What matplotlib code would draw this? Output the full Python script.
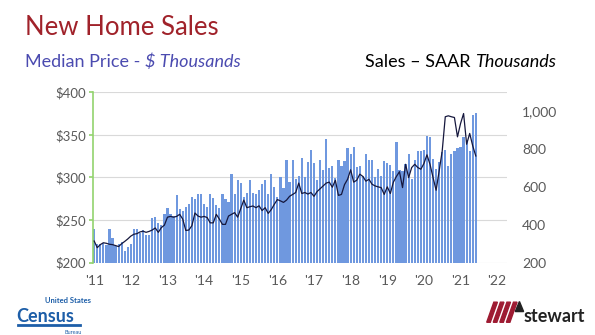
import numpy as np
import matplotlib.pyplot as plt
from matplotlib.patches import Polygon

# monthly series, Jan 2011 .. Jun 2021
price = [239, 222, 222, 223, 221, 239, 229, 220, 222, 224, 214, 218,
         222, 239, 239, 235, 238, 233, 233, 252, 254, 246, 244, 257,
         264, 257, 255, 279, 263, 261, 265, 269, 277, 275, 280, 281,
         269, 265, 280, 276, 268, 264, 280, 275, 271, 304, 280, 297,
         293, 277, 282, 297, 282, 281, 285, 292, 297, 280, 304, 289,
         277, 300, 288, 320, 295, 320, 298, 302, 323, 301, 318, 332,
         317, 297, 320, 309, 345, 311, 313, 299, 320, 313, 319, 335,
         328, 336, 312, 313, 302, 328, 320, 320, 300, 310, 302, 319,
         317, 315, 308, 342, 309, 308, 316, 328, 298, 320, 331, 331,
         332, 348, 347, 321, 310, 318, 330, 332, 313, 327, 331, 335,
         336, 347, 344, 331, 373, 375]
sales = [314, 279, 295, 305, 302, 297, 295, 290, 285, 300, 312, 325,
         340, 350, 353, 362, 366, 360, 365, 372, 383, 360, 385, 398,
         440, 444, 440, 444, 455, 430, 370, 372, 395, 462, 446, 440,
         444, 438, 410, 410, 455, 430, 402, 402, 446, 455, 464, 440,
         485, 530, 490, 495, 499, 490, 500, 475, 490, 460, 480, 508,
         533, 526, 518, 530, 550, 560, 570, 620, 565, 570, 562, 570,
         550, 575, 590, 605, 620, 625, 598, 635, 555, 560, 612, 640,
         690, 625, 635, 667, 655, 630, 640, 614, 605, 600, 596, 560,
         600, 565, 625, 655, 680, 596, 719, 649, 702, 719, 702, 693,
         723, 769, 719, 649, 582, 684, 790, 970, 975, 970, 966, 864,
         934, 987, 825, 882, 816, 763]
year_labels = ["'11", "'12", "'13", "'14", "'15", "'16",
               "'17", "'18", "'19", "'20", "'21", "'22"]
price_ticks = [200, 250, 300, 350, 400]
sales_ticks = [200, 400, 600, 800, 1000]

months = np.arange(len(price))
grey = '#595959'
font = ['Lato', 'DejaVu Sans']
plt.rcParams['font.family'] = font

fig = plt.figure(figsize=(5.95, 3.35), dpi=100)
ax = fig.add_axes([0.156, 0.216, 0.696, 0.509])

ax.bar(months, np.array(price) - 200, bottom=200, width=0.72,
       color='#6f98df', zorder=2)
ax.set_ylim(200, 400)
ax.set_xlim(-0.45, 135.2)
ax.set_yticks(price_ticks)
ax.set_yticklabels([f'${v}' for v in price_ticks])
ax.set_xticks(np.arange(0, 12 * len(year_labels), 12))
ax.set_xticklabels(year_labels)
ax.grid(axis='y', color='#d9d9d9', lw=0.8, zorder=0)
for side in ['top', 'right', 'bottom']:
    ax.spines[side].set_visible(False)
ax.spines['left'].set_color('#92d36e')
ax.spines['left'].set_linewidth(1.2)
ax.tick_params(axis='y', colors='#92d36e', length=3, width=1.2,
               labelcolor=grey, labelsize=9.5, pad=2)
ax.tick_params(axis='x', length=0, labelcolor=grey, labelsize=10, pad=9)

ax2 = ax.twinx()
ax2.plot(months, sales, color='#15173d', lw=0.9, zorder=3)
ax2.set_ylim(200, 1100)
ax2.set_yticks(sales_ticks)
ax2.set_yticklabels([f'{v:,}' for v in sales_ticks])
for side in ['top', 'right', 'bottom', 'left']:
    ax2.spines[side].set_visible(False)
ax2.tick_params(axis='y', length=0, labelcolor=grey, labelsize=10, pad=11)

# headings
fig.text(0.042, 0.895, 'New Home Sales', color='#a0222a', fontsize=18.5,
         va='baseline')


def run_text(x, y, parts, **kw):
    r = fig.canvas.get_renderer()
    for s, style, color in parts:
        t = fig.text(x, y, s, style=style, color=color, va='baseline', **kw)
        x = fig.transFigure.inverted().transform(
            (t.get_window_extent(r).x1, 0))[0]


run_text(0.042, 0.800, [('Median Price - ', 'normal', '#4b4bb0'),
                        ('$ Thousands', 'italic', '#4b4bb0')], fontsize=13)
run_text(0.614, 0.800, [('Sales \u2013 SAAR ', 'normal', 'black'),
                        ('Thousands', 'italic', 'black')], fontsize=13)

# source logos
fig.text(0.075, 0.095, 'United States', color='#1d5ea8', fontsize=5.5,
         fontweight='bold')
fig.text(0.028, 0.040, 'Census', color='#1d5ea8', fontsize=13,
         fontweight='bold')
fig.add_artist(plt.Line2D([0.03, 0.135], [0.030, 0.030], color='#1d5ea8',
                          lw=2, transform=fig.transFigure))
fig.text(0.108, 0.003, 'Bureau', color='#1d5ea8', fontsize=4)

for i in range(4):
    x0 = 0.818 + i * 0.011
    fig.add_artist(Polygon([[x0, 0.038], [x0 + 0.006, 0.038],
                            [x0 + 0.018, 0.098], [x0 + 0.012, 0.098]],
                           closed=True, color='#9e1b32',
                           transform=fig.transFigure))
fig.add_artist(Polygon([[0.866, 0.070], [0.873, 0.100], [0.880, 0.070]],
                       closed=True, color='#222222',
                       transform=fig.transFigure))
fig.text(0.880, 0.040, 'stewart', color='#222222', fontsize=13,
         fontweight='bold')

fig.savefig('out.png', dpi=100)
